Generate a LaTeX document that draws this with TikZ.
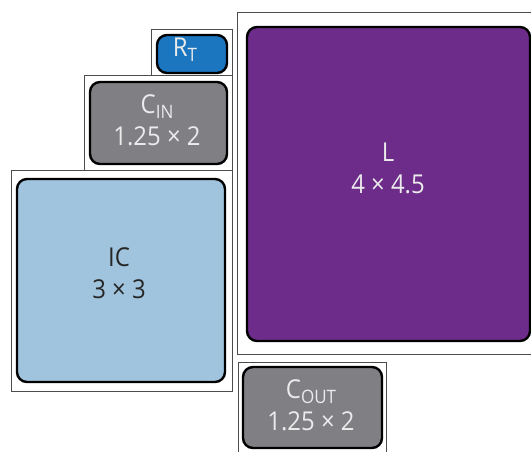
\documentclass[tikz,border=0pt]{standalone}
\usepackage{fontspec}
\setmainfont{Open Sans}[FakeStretch=0.92]
\usetikzlibrary{positioning}
\definecolor{rtblue}{HTML}{1B75BF}
\definecolor{capgray}{HTML}{7F7F84}
\definecolor{icblue}{HTML}{A0C4DE}
\definecolor{indpurple}{HTML}{6D2B8A}
\newcommand{\pinsub}[1]{\raisebox{-5pt}{\fontsize{18.5}{18.5}\selectfont #1}}
\tikzset{
    x=1pt, y=-1pt, % pixel coordinates, y going down
    pad/.style={draw=black!70, line width=0.8pt, inner sep=0pt}, % footprint outline
    part/.style={draw=black, line width=2.4pt, rounded corners=10pt, inner sep=0pt}, % the part itself
    partname/.style={anchor=base, inner sep=0pt, align=center,
        font=\fontsize{26}{32}\selectfont, text=white!92!black}, % base = last line
}

\begin{document}
\begin{tikzpicture}
    \useasboundingbox (0,0) rectangle (531,451);
    \clip (0,0) rectangle (531,451);

    % footprints
    \node[pad, minimum width=81pt, minimum height=46pt] (rtpad) at (191.5,52) {};
    \node[pad, minimum width=148pt, minimum height=95pt] (cinpad) at (158,122.5) {};
    \node[pad, minimum width=221pt, minimum height=221pt] (icpad) at (121.5,280.5) {};
    \node[pad, minimum width=308pt, minimum height=342pt] (lpad) at (391,183) {};
    \node[pad, minimum width=148pt, minimum height=108pt] (coutpad) at (312,416) {};

    % parts
    \node[part, fill=rtblue, minimum width=70pt, minimum height=38pt] (rt) at (192,54) {};
    \node[part, fill=capgray, minimum width=137pt, minimum height=82pt] (cin) at (158.5,123) {};
    \node[part, fill=icblue, minimum width=208pt, minimum height=203pt] (ic) at (121,280.5) {};
    \node[part, fill=indpurple, minimum width=283pt, minimum height=314pt] (ind) at (388.5,184) {};
    \node[part, fill=capgray, minimum width=139pt, minimum height=81pt] (cout) at (312.5,407.5) {};

    % names and sizes
    \node[partname] (rtname) at (185,56) {R\pinsub{T}};
    \node[partname] (cinname) at (157,145) {C\pinsub{IN}\\1.25 × 2};
    \node[partname, text=black!85] (icname) at (119,298) {IC\\3 × 3};
    \node[partname] (indname) at (388,193) {L\\4 × 4.5};
    \node[partname] (coutname) at (311,430) {C\pinsub{OUT}\\1.25 × 2};
\end{tikzpicture}
\end{document}
